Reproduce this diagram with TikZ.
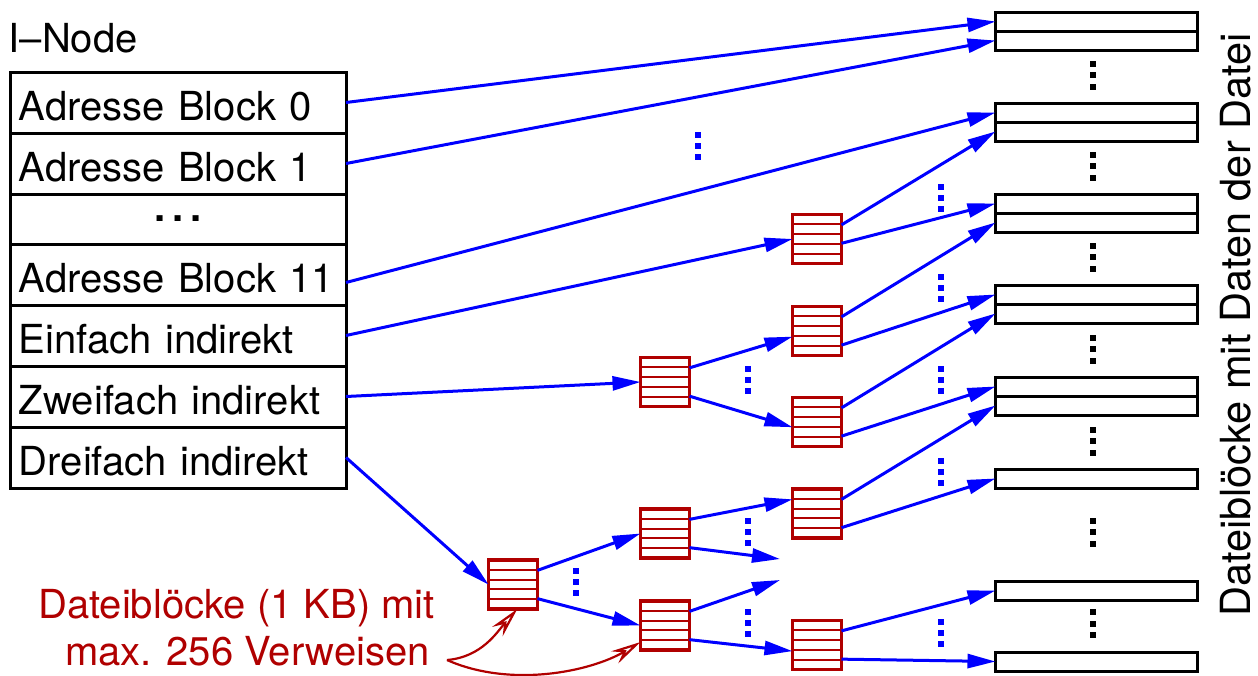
\documentclass[tikz,border=0pt]{standalone}
\usepackage{fontspec}
\setmainfont{TeX Gyre Heros}
\usetikzlibrary{positioning,arrows.meta,calc}

\definecolor{blockred}{RGB}{176,0,0}

\tikzset{
    cell/.style={draw, line width=3pt, outer sep=0pt, inner sep=0pt, minimum width=336pt},
    addr/.style={cell, minimum height=61pt, text width=318pt, align=left, text height=35pt, text depth=0pt},
    datarow/.style={draw, line width=3pt, outer sep=0pt, inner sep=0pt, minimum width=202pt, minimum height=19pt, anchor=north west},
    refblock/.style={draw=blockred, line width=3.2pt, outer sep=0pt, inner sep=0pt, minimum size=49pt,
        path picture={
            \foreach \k in {1,...,4}
                \draw[blockred, line width=2pt]
                    ($(path picture bounding box.north west)!\k/5!(path picture bounding box.south west)$) --
                    ($(path picture bounding box.north east)!\k/5!(path picture bounding box.south east)$);
        }},
    ptr/.style={blue, line width=3pt, -{Triangle[length=28pt, width=14pt]}},
    note/.style={blockred, line width=2.2pt, -{Stealth[open, length=30pt, width=14pt, inset=10pt]}},
}

\begin{document}
\begin{tikzpicture}[x=1pt, y=-1pt, font=\fontsize{40}{48}\selectfont]

    % the frame
    \useasboundingbox (0, 0) rectangle (1258, 675);

    % the i-node
    \node[anchor=base west, inner sep=0pt] (title) at (8.5, 52) {I–Node};
    \node[addr, anchor=north] (blk0) at (178, 72) {Adresse Block 0};
    \node[addr, below=0pt of blk0] (blk1) {Adresse Block 1};
    \node[cell, minimum height=50pt, below=0pt of blk1] (gap) {\textbf{.\,.\,.}};
    \node[addr, below=0pt of gap] (blk11) {Adresse Block 11};
    \node[addr, below=0pt of blk11] (ind1) {Einfach indirekt};
    \node[addr, below=0pt of ind1] (ind2) {Zweifach indirekt};
    \node[addr, below=0pt of ind2] (ind3) {Dreifach indirekt};

    % the data blocks
    \foreach \n/\y in {da1/12, da2/31, db1/103, db2/122, dc1/194, dc2/213, dd1/285, dd2/304,
                       de1/377, de2/396, df/469, dg/581, dh/652}
        \node[datarow] (\n) at (995.5, \y) {};

    \foreach \y in {75, 166, 257, 349, 441, 532, 623.5}
        \foreach \k in {-1, 0, 1}
            \fill ({1093-3}, {\y-3+11.5*\k}) rectangle +(6, 6);

    \node[rotate=90, anchor=base, inner sep=0pt, font=\fontsize{41.5}{48}\selectfont] (caption) at (1250, 325) {Dateiblöcke mit Daten der Datei};

    % the blocks with pointers
    \node[refblock] (ein) at (817, 239) {};
    \node[refblock] (zw) at (665, 382) {};
    \node[refblock] (zwa) at (817, 331) {};
    \node[refblock] (zwb) at (817, 422) {};
    \node[refblock] (dr) at (513, 584.5) {};
    \node[refblock] (dra) at (665, 533.5) {};
    \node[refblock] (drb) at (665, 625.5) {};
    \node[refblock] (draa) at (817, 513.5) {};
    \node[refblock] (drbb) at (817, 645) {};

    \coordinate (open1) at (780, 559);
    \coordinate (open2) at (780, 580);

    % direct
    \draw[ptr] (blk0.east) -- (da1.west);
    \draw[ptr] (blk1.east) -- (da2.west);
    \draw[ptr] ([yshift=-8pt]blk11.east) -- (db1.west);

    % single
    \draw[ptr] (ind1.east) -- (ein.west);
    \draw[ptr] (ein.30) -- (db2.west);
    \draw[ptr] (ein.-10) -- (dc1.west);

    % double
    \draw[ptr] (ind2.east) -- (zw.west);
    \draw[ptr] (zw.30) -- (zwa.193);
    \draw[ptr] (zw.-30) -- (zwb.192);
    \draw[ptr] (zwa.30) -- (dc2.west);
    \draw[ptr] (zwa.-30) -- (dd1.west);
    \draw[ptr] (zwb.30) -- (dd2.west);
    \draw[ptr] (zwb.-30) -- (de1.west);

    % triple
    \draw[ptr] (ind3.east) -- (dr.west);
    \draw[ptr] (dr.30) -- (dra.west);
    \draw[ptr] (dr.-30) -- (drb.west);
    \draw[ptr] (dra.30) -- (draa.150);
    \draw[ptr] (dra.-30) -- (open1);
    \draw[ptr] (drb.30) -- (open2);
    \draw[ptr] (drb.-30) -- (drbb.194);
    \draw[ptr] (draa.30) -- (de2.west);
    \draw[ptr] (draa.-30) -- (df.west);
    \draw[ptr] (drbb.30) -- (dg.west);
    \draw[ptr] (drbb.-30) -- (dh.west);

    % blue dots
    \foreach \x/\y in {698/146, 941/197.5, 941/288, 941/380, 941/471.5, 748/380,
                       748/532, 748/623, 941/633, 576/582}
        \foreach \k in {-1, 0, 1}
            \fill[blue] ({\x-3}, {\y-3+11*\k}) rectangle +(6, 6);

    % label
    \node[blockred, anchor=base east, inner sep=0pt] (memo1) at (435, 618) {Dateiblöcke (1 KB) mit};
    \node[blockred, anchor=base east, inner sep=0pt] (memo2) at (430, 665) {max. 256 Verweisen};
    \coordinate (memo) at (447, 660);
    \draw[note] (memo) .. controls (482, 657) and (497, 632) .. (dr.-80);
    \draw[note] (memo) .. controls (510, 688) and (590, 672) .. (drb.214);

\end{tikzpicture}
\end{document}
